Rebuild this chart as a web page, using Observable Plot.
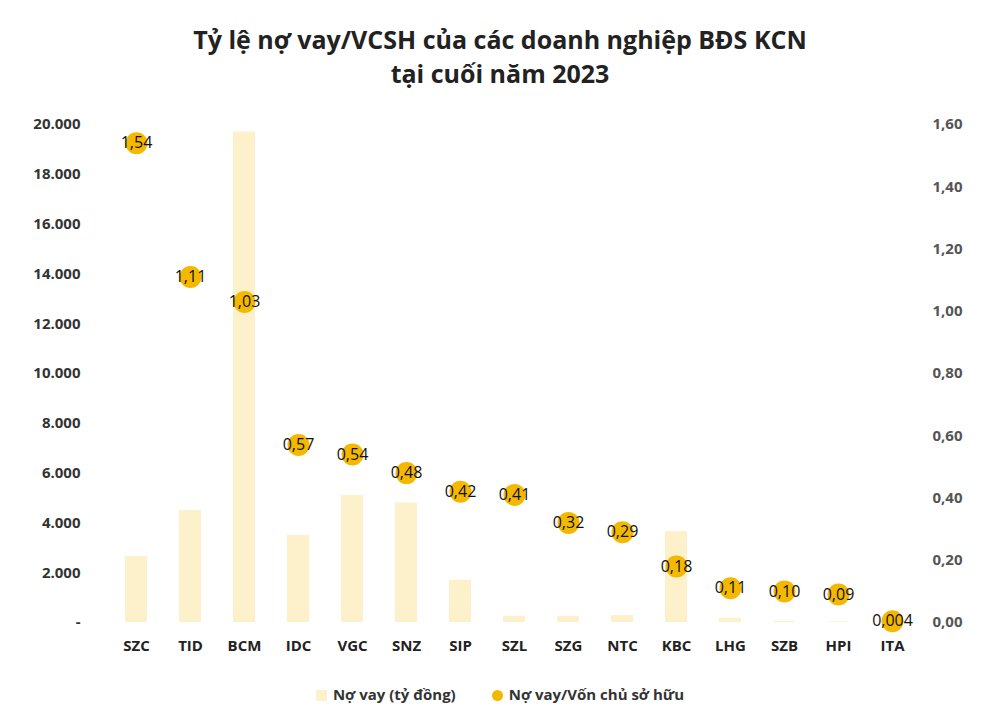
<!DOCTYPE html>
<html><head><meta charset="utf-8">
<script src="https://cdn.jsdelivr.net/npm/d3@7"></script>
<script src="https://cdn.jsdelivr.net/npm/@observablehq/plot@0.6"></script>
<style>
body{margin:0;background:#fff;font-family:"Open Sans",sans-serif;}
#t{height:100px;text-align:center;font-weight:bold;font-size:25px;line-height:34px;color:#222;padding-top:22px;box-sizing:border-box;}
#lg{text-align:center;font-size:15px;font-weight:bold;color:#333;margin-top:4px;}
.sw{display:inline-block;width:11px;height:11px;margin-right:6px;vertical-align:-1px}
</style></head><body>
<div id="t">Tỷ lệ nợ vay/VCSH của các doanh nghiệp BĐS KCN<br>tại cuối năm 2023</div>
<div id="c"></div>
<div id="lg"><span class="sw" style="background:#fdf1cc"></span>Nợ vay (tỷ đồng)<span style="display:inline-block;width:36px"></span><span class="sw" style="background:#f5b800;border-radius:50%"></span>Nợ vay/Vốn chủ sở hữu</div>
<script>
const companies=["SZC","TID","BCM","IDC","VGC","SNZ","SIP","SZL","SZG","NTC","KBC","LHG","SZB","HPI","ITA"];
const debt=[2650,4500,19700,3500,5100,4800,1700,250,250,280,3650,180,50,30,0];
const ratio=[1.54,1.11,1.03,0.57,0.54,0.48,0.42,0.41,0.32,0.29,0.18,0.11,0.10,0.09,0.004];
const ratioLabels=["1,54","1,11","1,03","0,57","0,54","0,48","0,42","0,41","0,32","0,29","0,18","0,11","0,10","0,09","0,004"];
const leftTicks=[0,2000,4000,6000,8000,10000,12000,14000,16000,18000,20000];
const rightTicks=[0,0.2,0.4,0.6,0.8,1.0,1.2,1.4,1.6];
const k=20000/1.6;
const data=companies.map((c,i)=>({c,d:debt[i],r:ratio[i],l:ratioLabels[i]}));
const fmtL=v=>v===0?"-":d3.format(",")(v).replace(/,/g,".");
const chart=Plot.plot({
 width:1000,height:580,marginTop:24,marginBottom:58,marginLeft:108,marginRight:80,
 style:{fontFamily:"Open Sans",fontSize:"15px",color:"#333",fontWeight:"bold"},
 x:{domain:companies,paddingInner:0.6,paddingOuter:0.2,label:null,tickSize:0},
 y:{domain:[0,20000],label:null},
 marks:[
  Plot.barY(data,{x:"c",y:"d",fill:"#fdf1cc"}),
  Plot.axisY({ticks:leftTicks,tickFormat:fmtL,tickSize:0,tickPadding:28,textAnchor:"end",fill:"#333",fontSize:15}),
  Plot.axisY({anchor:"right",ticks:rightTicks.map(v=>v*k),tickFormat:v=>(v/k).toFixed(2).replace(".",","),tickSize:0,tickPadding:12,fill:"#555",fontSize:15}),
  Plot.axisX({tickSize:0,tickPadding:18,fill:"#222",fontSize:15}),
  Plot.dot(data,{x:"c",y:d=>d.r*k,r:11,fill:"#f5b800"}),
  Plot.text(data,{x:"c",y:d=>d.r*k,text:"l",fontSize:16,fontWeight:"normal",fill:"#111"})
 ]
});
document.getElementById("c").appendChild(chart);
</script></body></html>
